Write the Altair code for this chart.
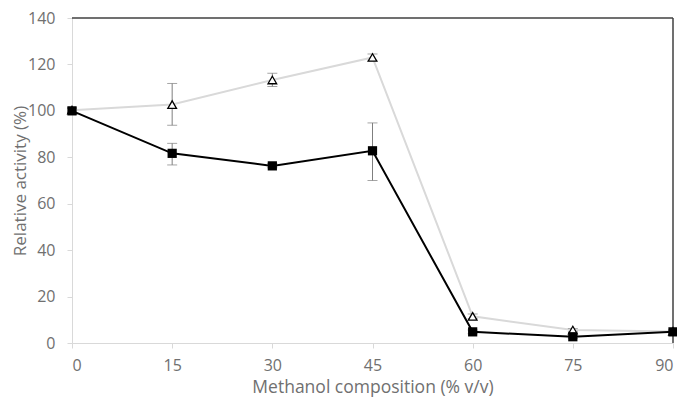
import altair as alt
import pandas as pd

x_vals = [0, 15, 30, 45, 60, 75, 90]
sq_vals = [100, 81.7, 76.3, 82.8, 4.8, 2.7, 4.8]
sq_lo = [99, 76.7, 75.5, 70.0, 4.0, 2.0, 4.0]
sq_hi = [101, 86.0, 77.3, 94.8, 5.6, 3.4, 5.6]
tr_vals = [100.3, 102.7, 113.3, 123.0, 11.5, 5.6, 5.0]
tr_lo = [99.0, 93.8, 110.5, 121.5, 10.5, 5.0, 4.5]
tr_hi = [101.5, 111.8, 116.2, 124.5, 12.5, 6.2, 5.5]
y_ticks = [0, 20, 40, 60, 80, 100, 120, 140]

df = pd.DataFrame({"x": x_vals, "sq": sq_vals, "sq_lo": sq_lo, "sq_hi": sq_hi,
                   "tr": tr_vals, "tr_lo": tr_lo, "tr_hi": tr_hi})

FONT = "Open Sans"
GRAY = "#707070"

xs = alt.Scale(domain=[0, 90], nice=False, zero=False)
ys = alt.Scale(domain=[0, 140], nice=False)

xaxis = alt.Axis(values=x_vals, title="Methanol composition (% v/v)", grid=False,
                 domainColor="#d9d9d9", tickColor="#d9d9d9", tickSize=5,
                 labelColor=GRAY, labelFontSize=16, labelFont=FONT, labelPadding=9,
                 titleColor=GRAY, titleFontSize=17.5, titleFont=FONT, titleFontWeight="normal",
                 titlePadding=5)
yaxis = alt.Axis(values=y_ticks, title="Relative activity (%)", grid=False,
                 domainColor="#d9d9d9", tickColor="#d9d9d9", tickSize=5,
                 labelColor=GRAY, labelFontSize=16, labelFont=FONT, labelPadding=12,
                 titleColor=GRAY, titleFontSize=17, titleFont=FONT, titleFontWeight="normal",
                 titleX=-52, titleBaseline="middle")

X = alt.X("x:Q", scale=xs, axis=xaxis)

def Y(field):
    return alt.Y(field, type="quantitative", scale=ys, axis=yaxis)

base = alt.Chart(df)

tr_line = base.mark_line(color="#d9d9d9", strokeWidth=2).encode(x=X, y=Y("tr"))
sq_line = base.mark_line(color="black", strokeWidth=2).encode(x=X, y=Y("sq"))

tr_err = base.mark_errorbar(ticks=alt.TickConfig(size=10, color="#7f7f7f"), color="#7f7f7f",
                            thickness=1).encode(x=X, y=Y("tr_lo"), y2="tr_hi:Q")
sq_err = base.mark_errorbar(ticks=alt.TickConfig(size=10, color="#7f7f7f"), color="#7f7f7f",
                            thickness=1).encode(x=X, y=Y("sq_lo"), y2="sq_hi:Q")

tr_pts = base.mark_point(shape="triangle-up", filled=True, fill="white", stroke="black",
                         strokeWidth=1.3, size=75, opacity=1).encode(x=X, y=Y("tr"))
sq_pts = base.mark_square(color="black", size=85, opacity=1).encode(x=X, y=Y("sq"))

top_border = alt.Chart(pd.DataFrame({"y": [140]})).mark_rule(color="#404040", strokeWidth=1.5).encode(
    y=alt.Y("y:Q", scale=ys, axis=yaxis))
right_border = alt.Chart(pd.DataFrame({"x": [90]})).mark_rule(color="#404040", strokeWidth=1.5).encode(
    x=alt.X("x:Q", scale=xs, axis=xaxis))

chart = alt.layer(tr_line, top_border, right_border, tr_err, sq_err, sq_line, tr_pts, sq_pts).properties(
    width=601, height=325, autosize="none",
    padding={"left": 64, "top": 10, "right": 4, "bottom": 58}
).configure_view(stroke=None)

chart.save("out.html", embed_options={"renderer": "svg", "actions": False})
